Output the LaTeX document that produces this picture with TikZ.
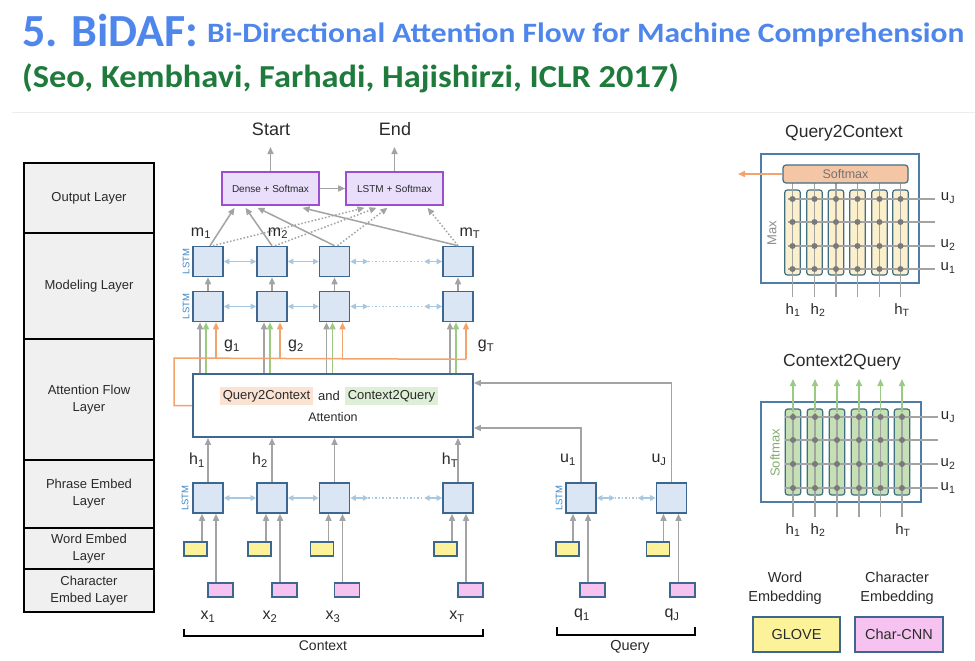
\documentclass[tikz,border=0pt]{standalone}
\usepackage{fontspec}
\setmainfont{Liberation Sans}
\newfontfamily\titlefont{Carlito}
\usetikzlibrary{arrows.meta,calc}

\definecolor{tblue}{HTML}{4F86EC}
\definecolor{tgreen}{HTML}{1E7B3C}
\definecolor{lstmf}{HTML}{DAE6F4}
\definecolor{lstmb}{HTML}{3E6790}
\definecolor{agray}{HTML}{A3A3A3}
\definecolor{hblue}{HTML}{A8C8E2}
\definecolor{aorange}{HTML}{F3A46C}
\definecolor{agreen}{HTML}{9BCB82}
\definecolor{wyellow}{HTML}{FBF29A}
\definecolor{cpink}{HTML}{F6C3F0}
\definecolor{purb}{HTML}{9A4FD0}
\definecolor{purf}{HTML}{E9DFFB}
\definecolor{layf}{HTML}{F0F0F0}
\definecolor{txt}{HTML}{2A2A2A}
\definecolor{q2cf}{HTML}{F5C6A6}
\definecolor{q2ct}{HTML}{FBE3D3}
\definecolor{c2qt}{HTML}{DDEFD6}
\definecolor{colY}{HTML}{FCEFCB}
\definecolor{colG}{HTML}{C6E0B5}
\definecolor{panb}{HTML}{4D7DA8}
\definecolor{colb}{HTML}{3F6F80}
\definecolor{lstmt}{HTML}{3C86C8}
\definecolor{dotc}{HTML}{7A7A7A}

\tikzset{
  every node/.style={text=txt, inner sep=0pt},
  arrtip/.style={-{Triangle[length=7pt,width=6pt]}},
  dbltip/.style={{Triangle[length=5.5pt,width=5.5pt]}-{Triangle[length=5.5pt,width=5.5pt]}},
  lay/.style={draw=black, line width=1.3pt, fill=layf, minimum width=130pt, align=center, font=\fontsize{13}{17}\selectfont},
  lstm/.style={draw=lstmb, fill=lstmf, line width=1.6pt, minimum width=30pt, minimum height=30pt},
  wbox/.style={draw=lstmb, fill=wyellow, line width=1.4pt, minimum width=23pt, minimum height=14pt},
  cbox/.style={draw=lstmb, fill=cpink, line width=1.4pt, minimum width=25pt, minimum height=14pt},
  obox/.style={draw=purb, fill=purf, line width=1.6pt, minimum width=97pt, minimum height=33pt, font=\fontsize{10}{12}\selectfont},
  garr/.style={draw=agray, line width=1.5pt, arrtip},
  gdot/.style={draw=agray, line width=1.5pt, dash pattern=on 1.5pt off 2pt, arrtip},
  oarr/.style={draw=aorange, line width=1.5pt, arrtip},
  grarr/.style={draw=agreen, line width=1.5pt, arrtip},
  harr/.style={draw=hblue, line width=1.4pt, dbltip},
  hdot/.style={draw=hblue, line width=1.4pt, dash pattern=on 1.5pt off 2pt},
  lbl/.style={font=\fontsize{16}{18}\selectfont},
  slbl/.style={font=\fontsize{15}{17}\selectfont},
  lstmlbl/.style={rotate=90, text=lstmt, font=\fontsize{9.5}{10}\selectfont},
  colbox/.style={draw=colb, line width=1.2pt, rounded corners=2.5pt, minimum width=15.5pt},
  gline/.style={draw=agray, line width=1.2pt},
  dotn/.style={circle, fill=dotc, minimum size=6pt},
  brace/.style={draw=black, line width=1.3pt},
  legbox/.style={draw=lstmb, line width=1.5pt, minimum width=87pt, minimum height=35pt, font=\fontsize{14.5}{16}\selectfont}
}

\begin{document}
\begin{tikzpicture}[x=1pt,y=-1pt]
\useasboundingbox (0,0) rectangle (975,661);
\fill[white] (0,0) rectangle (975,661);

% title
\node[anchor=base west, text=tblue, font=\titlefont\bfseries\fontsize{46}{50}\selectfont] (title) at (22,47) {5. BiDAF:};
\node[anchor=base west, text=tblue, font=\titlefont\bfseries\fontsize{28}{30}\selectfont] (subtitle) at (207,43)
  {\scalebox{1.125}[1]{Bi-Directional Attention Flow for Machine Comprehension}};
\node[anchor=base west, text=tgreen, font=\titlefont\bfseries\fontsize{32}{36}\selectfont] (authors) at (22,88)
  {\scalebox{1.074}[1]{(Seo, Kembhavi, Farhadi, Hajishirzi, ICLR 2017)}};
\draw[black!7, line width=1pt] (12,112) -- (975,112);

% layer column
\node[lay, minimum height=70pt] (Lout) at (89,198) {Output Layer};
\node[lay, minimum height=106pt] (Lmod) at (89,286) {Modeling Layer};
\node[lay, minimum height=121pt] (Latt) at (89,399.5) {Attention Flow\\Layer};
\node[lay, minimum height=68pt] (Lphr) at (89,494) {Phrase Embed\\Layer};
\node[lay, minimum height=41pt] (Lwrd) at (89,548.5) {Word Embed\\Layer};
\node[lay, minimum height=43pt] (Lchr) at (89,590.5) {Character\\Embed Layer};

% output layer
\node[font=\fontsize{18}{20}\selectfont] (start) at (271,129) {Start};
\node[font=\fontsize{18}{20}\selectfont] (end) at (395,129) {End};
\node[obox] (dense) at (270.5,188.5) {Dense + Softmax};
\node[obox] (lsoft) at (394.5,188.5) {LSTM + Softmax};
\draw[garr] (dense.north) -- (dense.north |- 0,147);
\draw[garr] (lsoft.north) -- (lsoft.north |- 0,147);
\draw[garr] (dense.east) -- (lsoft.west);

% modeling layer
\foreach \x [count=\i] in {208,272,334.5,458}{
  \node[lstm] (mt\i) at (\x,261.5) {};
  \node[lstm] (mb\i) at (\x,306.5) {};
  \node[lstm] (p\i) at (\x,498) {};
  \node[wbox] (w\i) at (\x-12.5,549) {};
  \node[cbox] (c\i) at (\x+12.5,590) {};
}
\node[lstmlbl] (lm1) at (186,261.5) {LSTM};
\node[lstmlbl] (lm2) at (186,306.5) {LSTM};
\node[lstmlbl] (lp) at (185,498) {LSTM};

\foreach \i in {1,2,3,4}{
  \draw[garr] (mb\i.north) -- (mt\i.south);
  \draw[garr] ([xshift=-6pt]p\i.south |- w\i.north) -- ([xshift=-6pt]p\i.south);
  \draw[garr] ([xshift=8pt]p\i.south |- c\i.north) -- ([xshift=8pt]p\i.south);
}
% horizontal bi-arrows
\foreach \r in {mt,mb,p}{
  \draw[harr] (\r1.east) -- (\r2.west);
  \draw[harr] (\r2.east) -- (\r3.west);
  \draw[harr] (\r3.east) -- ($(\r3.east)+(18,0)$);
  \draw[hdot] ($(\r3.east)+(18,0)$) -- ($(\r4.west)-(18,0)$);
  \draw[harr] ($(\r4.west)-(18,0)$) -- (\r4.west);
}

% output connections
\draw[garr] ([xshift=2pt]mt1.north) -- ([xshift=-36pt,yshift=-2pt]dense.south);
\draw[garr] (mt2.north) -- ([xshift=-25pt,yshift=-2pt]dense.south);
\draw[garr] (mt3.north) -- ([xshift=-13pt,yshift=-2pt]dense.south);
\draw[garr] (mt4.north) -- ([xshift=32pt,yshift=-2pt]dense.south);
\draw[gdot] ([xshift=5pt]mt1.north) -- ([xshift=-30pt,yshift=-2pt]lsoft.south);
\draw[gdot] ([xshift=3pt]mt2.north) -- ([xshift=-18pt,yshift=-2pt]lsoft.south);
\draw[gdot] ([xshift=3pt]mt3.north) -- ([xshift=-7pt,yshift=-2pt]lsoft.south);
\draw[gdot] (mt4.north) -- ([xshift=33pt,yshift=-2pt]lsoft.south);

\node[lbl] (m1) at (201,233) {m\textsubscript{1}};
\node[lbl] (m2) at (278,233) {m\textsubscript{2}};
\node[lbl] (mT) at (470,233) {m\textsubscript{T}};

% attention box
\node[draw=lstmb, line width=1.8pt, fill=white, minimum width=280pt, minimum height=63pt] (att) at (333,405.5) {};
\node[fill=q2ct, inner xsep=3pt, inner ysep=3pt, font=\fontsize{13}{15}\selectfont] (q2ctxt) at (266.5,396) {Query2Context};
\node[font=\fontsize{13}{15}\selectfont] (andtxt) at (329,396) {and};
\node[fill=c2qt, inner xsep=3pt, inner ysep=3pt, font=\fontsize{13}{15}\selectfont] (c2qtxt) at (391.5,396) {Context2Query};
\node[font=\fontsize{12.5}{15}\selectfont] (atttxt) at (333,417) {Attention};

\foreach \i in {1,2,3,4}{
  \draw[garr] ([xshift=-8pt]mb\i.south |- att.north) -- ([xshift=-8pt]mb\i.south);
  \draw[grarr] ([xshift=-2pt]mb\i.south |- att.north) -- ([xshift=-2pt]mb\i.south);
  \draw[garr] (p\i.north) -- (p\i.north |- att.south);
}
\coordinate (oc) at ($(mb4.south)+(8,37)$);
\draw[aorange, line width=1.5pt] (att.west) -| (174,358) -- (oc);
\foreach \i in {1,2,3,4}{
  \draw[oarr] ([xshift=8pt]mb\i.south |- oc) -- ([xshift=8pt]mb\i.south);
}
\node[lbl] (g1) at (232,346) {g\textsubscript{1}};
\node[lbl] (g2) at (296,346) {g\textsubscript{2}};
\node[lbl] (gT) at (486,346) {g\textsubscript{T}};

\node[lbl] (h1) at (197,460) {h\textsubscript{1}};
\node[lbl] (h2) at (260,460) {h\textsubscript{2}};
\node[lbl] (hT) at (450,460) {h\textsubscript{T}};

\node[lbl] (x1) at (208,617) {x\textsubscript{1}};
\node[lbl] (x2) at (270,617) {x\textsubscript{2}};
\node[lbl] (x3) at (333,617) {x\textsubscript{3}};
\node[lbl] (xT) at (457,617) {x\textsubscript{T}};
\draw[brace] (184,629) -- (184,636) -- (483,636) -- (483,629);
\node[font=\fontsize{14}{16}\selectfont] (ctx) at (323,646) {Context};

% query side
\node[lstm] (pq1) at (581,498) {};
\node[lstm] (pq2) at (671.5,498) {};
\node[lstmlbl] (lq) at (559,498) {LSTM};
\node[wbox] (wq1) at (567.5,549) {};
\node[wbox] (wq2) at (658,549) {};
\node[cbox] (cq1) at (592.5,590) {};
\node[cbox] (cq2) at (682.5,590) {};
\foreach \i in {1,2}{
  \draw[garr] ([xshift=-8pt]pq\i.south |- wq\i.north) -- ([xshift=-8pt]pq\i.south);
  \draw[garr] ([xshift=7pt]pq\i.south |- cq\i.north) -- ([xshift=7pt]pq\i.south);
}
\draw[harr] (pq1.east) -- ($(pq1.east)+(18,0)$);
\draw[hdot] ($(pq1.east)+(18,0)$) -- ($(pq2.west)-(18,0)$);
\draw[harr] ($(pq2.west)-(18,0)$) -- (pq2.west);
\draw[garr] (pq1.north) |- ([yshift=-22.5pt]att.east);
\draw[garr] (pq2.north) |- ([yshift=22.5pt]att.east);
\node[lbl] (u1) at (568,460) {u\textsubscript{1}};
\node[lbl] (uJ) at (659,460) {u\textsubscript{J}};
\node[lbl] (q1) at (582,615) {q\textsubscript{1}};
\node[lbl] (qJ) at (672,615) {q\textsubscript{J}};
\draw[brace] (557,627) -- (557,635) -- (695,635) -- (695,627);
\node[font=\fontsize{14.5}{16}\selectfont] (qry) at (630,647) {Query};

% Query2Context panel
\node[font=\fontsize{17.5}{20}\selectfont] (q2ctitle) at (844,133) {Query2Context};
\node[draw=panb, line width=1.8pt, minimum width=158pt, minimum height=129pt] (q2c) at (840,218.5) {};
\foreach \x [count=\i] in {792.5,814.5,836,857.5,879.5,900.5}{
  \node[colbox, fill=colY, minimum height=85pt] (qc\i) at (\x,232.5) {};
}
\foreach \x in {792.5,814.5,836,857.5,879.5,900.5}{
  \draw[gline] (\x,297) -- (\x,183);
}
\foreach \y in {199,222,246,269}{
  \draw[gline] (788,\y) -- (935,\y);
  \foreach \x in {792.5,814.5,836,857.5,879.5,900.5}{
    \node[dotn] at (\x,\y) {};
  }
}
\node[draw=colb, line width=1.2pt, fill=q2cf, rounded corners=3pt, minimum width=125pt, minimum height=18pt, text=black!55, font=\fontsize{12.5}{14}\selectfont] (smax) at (845.5,174) {Softmax};
\draw[oarr] (smax.west) -- (738,174);
\node[rotate=90, text=black!45, font=\fontsize{13}{15}\selectfont] (maxl) at (772,233) {Max};
\node[slbl] at (948,198) {u\textsubscript{J}};
\node[slbl] at (948,245) {u\textsubscript{2}};
\node[slbl] at (948,268) {u\textsubscript{1}};
\node[slbl] at (793,310) {h\textsubscript{1}};
\node[slbl] at (818,310) {h\textsubscript{2}};
\node[slbl] at (902,310) {h\textsubscript{T}};

% Context2Query panel
\node[font=\fontsize{17.5}{20}\selectfont] (c2qtitle) at (842,362) {Context2Query};
\node[draw=panb, line width=1.8pt, minimum width=160pt, minimum height=100pt] (c2q) at (841,452) {};
\foreach \x [count=\i] in {793,815,837,859,880.5,902}{
  \node[colbox, fill=colG, minimum height=86pt] (cc\i) at (\x,452) {};
}
\foreach \x [count=\i] in {793,815,837,859,880.5,902}{
  \draw[gline] (\x,517) -- (\x,413);
  \draw[grarr] ([yshift=-4pt]cc\i.north) -- (\x,379);
}
\foreach \y in {417,440,464,488}{
  \draw[gline] (785,\y) -- (938,\y);
  \foreach \x in {793,815,837,859,880.5,902}{
    \node[dotn] at (\x,\y) {};
  }
}
\node[rotate=90, text=agreen!85!black, font=\fontsize{13}{15}\selectfont] (smaxl) at (775,453) {Softmax};
\node[slbl] at (948,417) {u\textsubscript{J}};
\node[slbl] at (948,464) {u\textsubscript{2}};
\node[slbl] at (948,488) {u\textsubscript{1}};
\node[slbl] at (793,530) {h\textsubscript{1}};
\node[slbl] at (818,530) {h\textsubscript{2}};
\node[slbl] at (903,530) {h\textsubscript{T}};

% legend
\node[align=center, font=\fontsize{14.5}{19}\selectfont] (wl) at (785,588) {Word\\Embedding};
\node[align=center, font=\fontsize{14.5}{19}\selectfont] (cl) at (897,588) {Character\\Embedding};
\node[legbox, fill=wyellow] (glove) at (796.5,634.5) {GLOVE};
\node[legbox, fill=cpink, minimum width=88pt] (ccnn) at (899,634.5) {Char-CNN};
\end{tikzpicture}
\end{document}
